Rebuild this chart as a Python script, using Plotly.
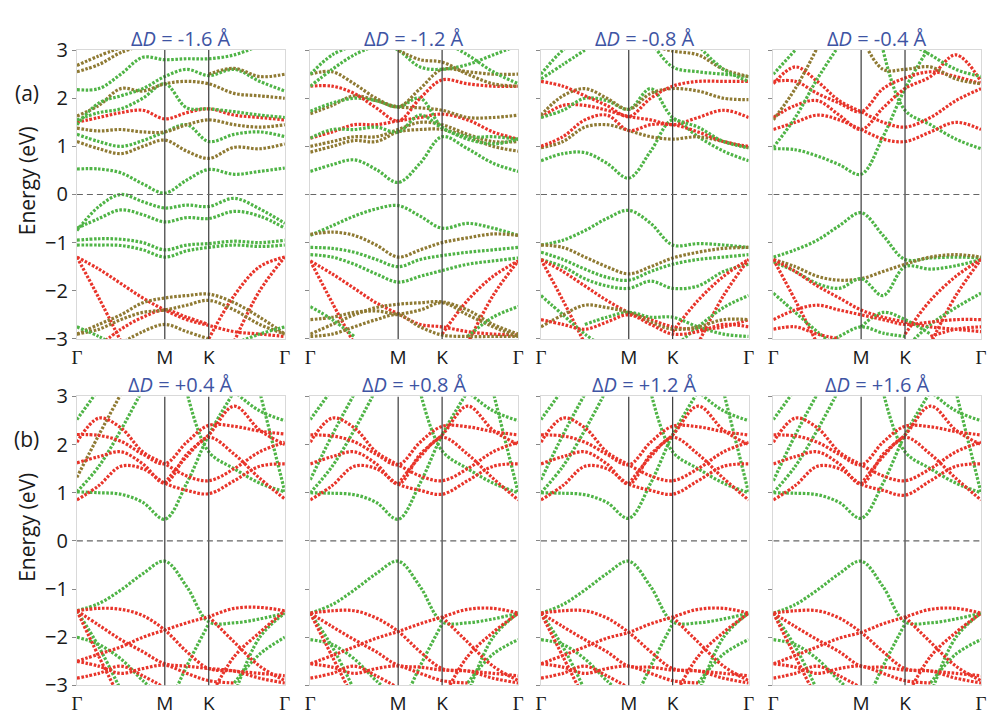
import plotly.graph_objects as go

# k-path positions: Gamma - M - K - Gamma
K_POS = [0.0, 0.25, 0.5, 0.75, 1.0, 1.25, 1.5, 1.79, 2.08, 2.366]
K_TICKS = [0.0, 1.0, 1.5, 2.366]
K_LABELS = ["Γ", "M", "K", "Γ"]
N = None

PANEL_TITLES = ["-1.6", "-1.2", "-0.8", "-0.4", "+0.4", "+0.8", "+1.2", "+1.6"]

# Band energies (eV) sampled at K_POS; None = band outside the window there.
# Orbital character of each band: g = green-projected, r = red-projected, o = mixed.
BANDS_M16 = [
    [0.53, 0.53, 0.45, 0.22, 0.03, 0.3, 0.52, 0.42, 0.48, 0.55],
    [1.1, 0.95, 0.85, 1.0, 1.13, 0.9, 0.75, 0.98, 0.95, 1.05],
    [1.25, 1.1, 1.0, 1.12, 1.3, 1.45, 1.1, 1.25, 1.3, 1.2],
    [1.38, 1.32, 1.35, 1.3, 1.3, 1.45, 1.55, 1.45, 1.4, 1.45],
    [1.5, 1.6, 1.7, 1.75, 1.57, 1.7, 1.78, 1.65, 1.6, 1.55],
    [1.55, 1.7, 1.78, 2.0, 2.3, 1.8, 1.78, 1.72, 1.65, 1.6],
    [1.63, 1.85, 2.2, 2.15, 2.3, 2.35, 2.3, 2.1, 2.05, 2.0],
    [1.45, 1.9, 2.05, 2.2, 2.45, 2.6, 2.47, 2.6, 2.35, 2.15],
    [2.18, 2.2, 2.5, 2.85, 2.8, 2.82, 2.82, 2.9, 3.1, N],
    [2.55, 2.7, 2.95, 3.1, N, N, N, N, N, N],
    [2.68, 2.88, 3.05, N, N, N, N, N, N, N],
    [N, N, N, N, N, N, 2.5, 2.62, 2.45, 2.5],
    [-0.75, -0.25, 0.0, -0.15, -0.28, -0.22, -0.25, -0.08, -0.3, -0.6],
    [-0.7, -0.5, -0.32, -0.42, -0.57, -0.48, -0.5, -0.35, -0.45, -0.7],
    [-0.95, -0.92, -0.93, -1.0, -1.15, -1.05, -1.02, -0.97, -1.0, -0.95],
    [-1.05, -1.05, -1.06, -1.15, -1.3, -1.17, -1.1, -1.05, -1.08, -1.05],
    [-1.3, -1.55, -1.85, -2.15, -2.4, -2.6, -2.72, -2.85, -2.9, -2.95],
    [-1.3, -2.15, -3.05, N, N, N, N, N, N, N],
    [N, N, N, N, N, N, -3.0, -2.1, -1.5, -1.3],
    [N, N, N, N, N, N, N, -3.05, -2.0, -1.3],
    [N, -3.15, -2.8, -2.55, -2.4, -2.55, -2.7, N, N, N],
    [-2.9, -2.7, -2.5, -2.25, -2.15, -2.1, -2.07, -2.25, -2.55, -2.9],
    [-2.9, -2.8, -2.6, -2.45, -2.4, -2.3, -2.2, -2.4, -2.7, -2.9],
    [N, N, -3.1, -2.85, -2.7, -2.85, -3.0, N, N, N],
    [-2.75, -2.95, -3.2, N, N, N, N, N, N, N],
    [N, N, N, N, N, N, N, -3.1, -2.9, -2.75],
]
CHAR_M16 = "gogorgoggooo" + "ggggrrrrrooogg"

BANDS_M12 = [
    [0.48, 0.62, 0.72, 0.52, 0.25, 0.65, 1.2, 0.95, 0.65, 0.48],
    [0.88, 1.0, 1.12, 1.1, 1.3, 1.35, 1.35, 1.2, 1.0, 0.9],
    [1.0, 1.1, 1.2, 1.2, 1.35, 1.5, 1.45, 1.25, 1.1, 1.1],
    [1.17, 1.3, 1.45, 1.45, 1.53, 1.6, 1.67, 1.55, 1.3, 1.15],
    [1.17, 1.35, 1.35, 1.4, 1.3, 1.65, 1.38, 1.15, 1.05, 1.15],
    [1.68, 1.85, 2.05, 1.95, 1.82, 1.8, 1.75, 1.6, 1.6, 1.65],
    [1.73, 1.9, 2.0, 1.95, 1.82, 2.0, 1.4, 1.2, 1.2, 1.15],
    [2.25, 2.25, 2.1, 1.8, 1.53, 2.0, 2.38, 2.3, 2.25, 2.25],
    [2.5, 2.55, 2.3, 2.0, 1.82, 2.2, 2.6, 2.55, 2.5, 2.5],
    [N, N, N, 3.2, 3.0, 2.65, 2.6, 2.7, 2.9, 3.1],
    [N, N, N, N, 3.0, 2.8, 2.75, 2.5, 2.3, 2.25],
    [2.5, 2.9, 3.1, N, N, N, N, N, N, N],
    [2.25, 2.6, 2.9, 3.1, N, N, N, N, N, N],
    [N, N, N, N, N, N, 3.2, 2.9, 2.55, 2.3],
    [-0.85, -0.65, -0.45, -0.3, -0.23, -0.45, -0.7, -0.6, -0.7, -0.85],
    [-0.83, -0.78, -0.85, -1.05, -1.3, -1.15, -1.0, -0.9, -0.82, -0.85],
    [-1.1, -1.12, -1.2, -1.35, -1.5, -1.35, -1.27, -1.2, -1.15, -1.1],
    [-1.25, -1.3, -1.45, -1.65, -1.82, -1.7, -1.58, -1.45, -1.38, -1.32],
    [-1.38, -1.65, -1.95, -2.25, -2.48, -2.7, -2.75, -2.85, -2.9, -2.92],
    [-1.38, -2.25, -3.1, N, N, N, N, N, N, N],
    [N, N, N, N, N, N, -2.9, -2.2, -1.7, -1.38],
    [N, N, N, N, N, N, N, -3.1, -2.1, -1.38],
    [-2.9, -2.7, -2.5, -2.35, -2.28, -2.25, -2.23, -2.4, -2.7, -2.9],
    [-2.6, -2.55, -2.45, -2.42, -2.48, -2.4, -2.25, -2.5, -2.75, -2.95],
    [-2.33, -2.6, -2.95, N, N, N, N, N, N, N],
    [N, N, N, N, N, N, N, -2.95, -2.55, -2.33],
    [-2.95, -2.9, -2.75, -2.6, -2.5, -2.75, -2.92, -2.95, -2.95, -2.95],
]
CHAR_M12 = "goorgogrogoggg" + "goggrrrrooggo"

BANDS_M08 = [
    [0.7, 0.85, 0.87, 0.65, 0.34, 0.9, 1.55, 1.2, 0.9, 0.7],
    [0.97, 1.1, 1.4, 1.45, 1.33, 1.2, 1.15, 1.2, 1.1, 0.97],
    [1.0, 1.2, 1.55, 1.65, 1.33, 1.45, 1.45, 1.3, 1.1, 1.0],
    [1.6, 1.85, 1.85, 1.75, 1.62, 1.55, 1.45, 1.6, 1.75, 1.6],
    [1.6, 1.75, 2.0, 1.95, 1.77, 2.2, 1.6, 1.4, 1.1, 0.97],
    [1.65, 2.05, 2.2, 2.0, 1.77, 2.1, 2.2, 2.15, 2.0, 1.97],
    [2.35, 2.25, 2.05, 1.85, 1.62, 2.0, 2.25, 2.35, 2.35, 2.35],
    [2.5, 3.0, 3.3, N, N, N, N, N, N, N],
    [2.4, 2.7, 3.0, N, N, N, N, N, N, N],
    [N, N, N, N, N, 3.2, 2.65, 2.55, 2.5, 2.45],
    [N, N, N, N, N, 3.1, 2.98, 2.9, 2.6, 2.45],
    [N, N, N, N, N, N, N, 3.1, 2.6, 2.35],
    [-1.05, -0.95, -0.75, -0.5, -0.33, -0.6, -1.05, -1.02, -1.05, -1.1],
    [-1.05, -1.1, -1.3, -1.5, -1.65, -1.5, -1.32, -1.2, -1.12, -1.1],
    [-1.2, -1.35, -1.55, -1.72, -1.78, -1.6, -1.45, -1.35, -1.3, -1.25],
    [-1.35, -1.5, -1.75, -1.9, -1.95, -1.8, -1.95, -1.9, -1.6, -1.45],
    [-1.35, -1.6, -1.9, -2.2, -2.45, -2.6, -2.75, -2.8, -2.75, -2.6],
    [-1.35, -2.2, -3.1, N, N, N, N, N, N, N],
    [N, N, N, N, N, N, -2.85, -2.2, -1.7, -1.35],
    [N, N, N, N, N, N, N, -3.1, -2.1, -1.35],
    [-2.1, -2.5, -2.9, -3.2, N, N, N, N, N, N],
    [N, N, N, N, N, N, -3.2, -2.75, -2.35, -2.1],
    [N, N, -2.7, -2.55, -2.45, -2.55, -2.55, -2.75, -2.9, -2.95],
    [-2.75, -2.5, -2.3, -2.35, -2.45, -2.65, -2.8, -2.75, -2.6, -2.6],
    [-2.6, -2.7, -2.8, -2.65, -2.5, -2.7, -2.9, -2.85, -2.7, -2.75],
]
CHAR_M08 = "gorrgorgggog" + "goggrrrrgggor"

BANDS_M04 = [
    [0.95, 0.93, 0.8, 0.62, 0.42, 1.2, 2.2, 3.1, N, N],
    [N, N, N, N, N, 3.0, 1.75, 1.45, 1.15, 0.95],
    [2.35, 2.35, 2.1, 1.9, 1.72, 2.2, 2.42, 2.55, 2.45, 2.3],
    [2.3, 2.65, 2.35, 1.95, 1.72, 1.5, 1.4, 1.6, 1.95, 2.2],
    [1.6, 1.85, 1.95, 1.65, 1.35, 1.8, 2.2, 2.45, 2.9, 2.35],
    [1.35, 1.5, 1.65, 1.55, 1.35, 1.15, 1.1, 1.3, 1.5, 1.35],
    [0.98, 1.6, 2.4, 3.1, N, N, N, N, N, N],
    [1.55, 2.2, 3.05, N, N, N, N, N, N, N],
    [2.5, 3.0, N, N, N, N, N, N, N, N],
    [N, N, N, N, N, N, 3.2, 2.9, 2.6, 2.45],
    [N, N, N, N, 3.3, 2.6, 2.6, 2.65, 2.4, 2.3],
    [-1.3, -1.15, -0.95, -0.65, -0.38, -0.85, -1.35, -1.32, -1.3, -1.32],
    [-1.35, -1.5, -1.7, -1.78, -1.75, -1.6, -1.45, -1.3, -1.25, -1.3],
    [-1.4, -1.6, -1.85, -1.95, -1.75, -2.1, -1.5, -1.55, -1.48, -1.35],
    [-1.35, -1.6, -1.9, -2.15, -2.4, -2.55, -2.65, -2.75, -2.8, -2.85],
    [-1.35, -2.2, -3.1, N, N, N, N, N, N, N],
    [N, N, N, N, N, N, -2.9, -2.2, -1.7, -1.35],
    [N, N, N, N, N, N, N, -3.1, -2.1, -1.35],
    [-2.05, -2.45, -2.85, -3.2, N, N, N, N, N, N],
    [N, N, N, N, N, N, -3.2, -2.7, -2.35, -2.05],
    [N, N, -3.2, -2.95, -2.75, -2.88, -2.95, N, N, N],
    [N, N, N, N, -2.75, -2.45, -2.6, -2.9, N, N],
    [-2.6, -2.4, -2.3, -2.4, -2.5, -2.6, -2.7, -2.65, -2.6, -2.6],
    [-2.8, -2.75, -2.9, -3.0, N, N, N, -2.95, -2.8, -2.75],
]
CHAR_M04 = "ggrrrrgoggo" + "gogrrrrggggrr"

BANDS_P04 = [
    [1.02, 1.0, 0.97, 0.8, 0.45, 1.2, 2.2, 3.1, N, N],
    [N, N, N, N, N, 3.1, 1.85, 1.5, 1.2, 1.02],
    [1.02, 1.55, 2.3, 3.15, N, N, N, N, N, N],
    [1.32, 2.2, 3.05, N, N, N, N, N, N, N],
    [2.52, 3.15, N, N, N, N, N, N, N, N],
    [N, N, N, N, N, N, N, 3.1, 2.7, 2.5],
    [N, N, N, N, N, N, N, N, 3.1, 1.02],
    [2.21, 2.19, 2.07, 1.8, 1.6, 2.05, 2.4, 2.38, 2.28, 2.22],
    [2.05, 2.55, 2.35, 1.85, 1.6, 1.35, 1.25, 1.5, 1.85, 2.05],
    [1.62, 1.75, 1.85, 1.6, 1.2, 1.8, 2.2, 2.8, 2.3, 2.0],
    [0.85, 1.15, 1.55, 1.5, 1.2, 1.05, 0.98, 1.25, 1.55, 1.6],
    [N, N, N, N, 1.2, 1.75, 2.15, 1.8, 1.3, 0.87],
    [-1.45, -1.3, -1.02, -0.68, -0.42, -0.95, -1.68, -1.7, -1.62, -1.5],
    [-1.45, -2.2, -3.1, N, N, N, N, N, N, N],
    [-2.0, -2.15, -2.45, -2.9, -3.3, N, N, N, N, N],
    [N, N, N, N, -3.6, -2.6, -1.72, N, N, N],
    [N, N, N, N, N, N, N, -2.95, -2.35, -2.0],
    [N, N, N, N, N, N, N, -3.2, -2.0, -1.5],
    [-1.45, -1.4, -1.42, -1.55, -1.85, -2.3, -2.65, -2.7, -2.75, -2.8],
    [-2.5, -2.35, -2.2, -2.0, -1.85, -1.7, -1.57, -1.4, -1.38, -1.45],
    [-1.45, -1.75, -2.05, -2.3, -2.55, -2.6, -2.65, -2.7, -2.85, -2.95],
    [-1.45, -2.4, -3.3, N, N, N, N, N, N, N],
    [-2.5, -2.6, -2.75, -2.65, -2.58, -2.75, -2.9, -2.95, N, N],
    [N, N, N, N, N, N, -3.3, -2.4, -1.9, -1.45],
    [N, N, N, N, N, N, -1.57, -2.1, -2.6, -2.9],
    [-2.85, -2.75, -2.6, -2.8, -3.05, N, N, N, N, N],
]
CHAR_P04 = "gggoggg" + "rrrrr" + "gggggg" + "rrrrrrrr"

BANDS_P08 = [
    [1.0, 0.99, 0.96, 0.8, 0.45, 1.2, 2.2, 3.1, N, N],
    [N, N, N, N, N, 3.1, 1.87, 1.5, 1.2, 1.0],
    [1.0, 1.55, 2.3, 3.15, N, N, N, N, N, N],
    [1.27, 2.2, 3.05, N, N, N, N, N, N, N],
    [2.52, 3.15, N, N, N, N, N, N, N, N],
    [N, N, N, N, N, N, N, 3.1, 2.7, 2.5],
    [N, N, N, N, N, N, N, N, 3.1, 1.0],
    [2.2, 2.18, 2.06, 1.8, 1.58, 2.05, 2.38, 2.37, 2.27, 2.2],
    [2.05, 2.55, 2.35, 1.85, 1.58, 1.35, 1.25, 1.5, 1.85, 2.05],
    [1.6, 1.75, 1.85, 1.6, 1.18, 1.8, 2.2, 2.8, 2.3, 2.0],
    [0.85, 1.15, 1.55, 1.5, 1.18, 1.05, 0.97, 1.25, 1.55, 1.6],
    [N, N, N, N, 1.18, 1.75, 2.15, 1.8, 1.3, 0.85],
    [-1.5, -1.32, -1.02, -0.68, -0.42, -0.95, -1.68, -1.7, -1.62, -1.5],
    [-1.5, -2.2, -3.1, N, N, N, N, N, N, N],
    [-2.05, -2.15, -2.45, -2.9, -3.3, N, N, N, N, N],
    [N, N, N, N, -3.6, -2.6, -1.72, N, N, N],
    [N, N, N, N, N, N, N, -2.95, -2.35, -2.05],
    [N, N, N, N, N, N, N, -3.2, -2.0, -1.5],
    [-1.5, -1.45, -1.45, -1.6, -1.88, -2.3, -2.65, -2.7, -2.75, -2.8],
    [-2.55, -2.38, -2.2, -2.02, -1.88, -1.72, -1.58, -1.42, -1.4, -1.5],
    [-1.5, -1.78, -2.05, -2.3, -2.58, -2.62, -2.68, -2.7, -2.85, -2.95],
    [-1.5, -2.4, -3.3, N, N, N, N, N, N, N],
    [-2.55, -2.62, -2.75, -2.65, -2.6, -2.75, -2.9, -2.95, N, N],
    [N, N, N, N, N, N, -3.3, -2.4, -1.9, -1.5],
    [N, N, N, N, N, N, -1.58, -2.1, -2.6, -2.9],
    [-2.85, -2.75, -2.6, -2.8, -3.05, N, N, N, N, N],
]
CHAR_P08 = "ggggggg" + "rrrrr" + "gggggg" + "rrrrrrrr"

BANDS_P12 = [
    [1.0, 0.99, 0.96, 0.8, 0.47, 1.2, 2.2, 3.1, N, N],
    [N, N, N, N, N, 3.1, 1.85, 1.5, 1.2, 1.0],
    [1.0, 1.55, 2.3, 3.15, N, N, N, N, N, N],
    [1.27, 2.2, 3.05, N, N, N, N, N, N, N],
    [2.52, 3.15, N, N, N, N, N, N, N, N],
    [N, N, N, N, N, N, N, 3.1, 2.7, 2.5],
    [N, N, N, N, N, N, N, N, 3.1, 1.0],
    [2.2, 2.18, 2.05, 1.8, 1.58, 2.05, 2.38, 2.37, 2.27, 2.2],
    [2.05, 2.55, 2.35, 1.85, 1.58, 1.35, 1.25, 1.5, 1.85, 2.05],
    [1.6, 1.75, 1.85, 1.6, 1.18, 1.8, 2.2, 2.8, 2.3, 2.0],
    [0.85, 1.15, 1.55, 1.5, 1.18, 1.05, 0.97, 1.25, 1.55, 1.6],
    [N, N, N, N, 1.18, 1.75, 2.15, 1.8, 1.3, 0.85],
    [-1.5, -1.32, -1.02, -0.68, -0.42, -0.95, -1.68, -1.7, -1.62, -1.5],
    [-1.5, -2.2, -3.1, N, N, N, N, N, N, N],
    [-2.05, -2.15, -2.45, -2.9, -3.3, N, N, N, N, N],
    [N, N, N, N, -3.6, -2.6, -1.72, N, N, N],
    [N, N, N, N, N, N, N, -2.95, -2.35, -2.05],
    [N, N, N, N, N, N, N, -3.2, -2.0, -1.5],
    [-1.5, -1.45, -1.45, -1.6, -1.9, -2.3, -2.65, -2.7, -2.75, -2.8],
    [-2.55, -2.38, -2.2, -2.02, -1.9, -1.72, -1.58, -1.42, -1.4, -1.5],
    [-1.5, -1.78, -2.05, -2.3, -2.6, -2.62, -2.68, -2.7, -2.85, -2.95],
    [-1.5, -2.4, -3.3, N, N, N, N, N, N, N],
    [-2.55, -2.62, -2.75, -2.65, -2.6, -2.75, -2.9, -2.95, N, N],
    [N, N, N, N, N, N, -3.3, -2.4, -1.9, -1.5],
    [N, N, N, N, N, N, -1.58, -2.1, -2.6, -2.9],
    [-2.85, -2.75, -2.6, -2.8, -3.05, N, N, N, N, N],
]
CHAR_P12 = "ggggggg" + "rrrrr" + "gggggg" + "rrrrrrrr"

BANDS_P16 = [
    [1.0, 0.99, 0.96, 0.8, 0.47, 1.2, 2.2, 3.1, N, N],
    [N, N, N, N, N, 3.1, 1.85, 1.5, 1.2, 1.0],
    [1.0, 1.55, 2.3, 3.15, N, N, N, N, N, N],
    [1.25, 2.2, 3.05, N, N, N, N, N, N, N],
    [2.52, 3.15, N, N, N, N, N, N, N, N],
    [N, N, N, N, N, N, N, 3.1, 2.7, 2.5],
    [N, N, N, N, N, N, N, N, 3.1, 1.0],
    [2.2, 2.18, 2.05, 1.8, 1.58, 2.05, 2.38, 2.37, 2.27, 2.2],
    [2.05, 2.55, 2.35, 1.85, 1.58, 1.35, 1.25, 1.5, 1.85, 2.05],
    [1.6, 1.75, 1.85, 1.6, 1.18, 1.8, 2.2, 2.8, 2.3, 2.0],
    [0.85, 1.15, 1.55, 1.5, 1.18, 1.05, 0.95, 1.25, 1.55, 1.6],
    [N, N, N, N, 1.18, 1.75, 2.15, 1.8, 1.3, 0.85],
    [-1.5, -1.32, -1.02, -0.68, -0.42, -0.95, -1.68, -1.7, -1.62, -1.5],
    [-1.5, -2.2, -3.1, N, N, N, N, N, N, N],
    [-2.05, -2.15, -2.45, -2.9, -3.3, N, N, N, N, N],
    [N, N, N, N, -3.6, -2.6, -1.72, N, N, N],
    [N, N, N, N, N, N, N, -2.95, -2.35, -2.05],
    [N, N, N, N, N, N, N, -3.2, -2.0, -1.5],
    [-1.5, -1.45, -1.45, -1.6, -1.9, -2.3, -2.65, -2.7, -2.75, -2.8],
    [-2.55, -2.38, -2.2, -2.02, -1.9, -1.72, -1.58, -1.42, -1.4, -1.5],
    [-1.5, -1.78, -2.05, -2.3, -2.6, -2.62, -2.68, -2.7, -2.85, -2.95],
    [-1.5, -2.4, -3.3, N, N, N, N, N, N, N],
    [-2.55, -2.62, -2.75, -2.65, -2.6, -2.75, -2.9, -2.95, N, N],
    [N, N, N, N, N, N, -3.3, -2.4, -1.9, -1.5],
    [N, N, N, N, N, N, -1.58, -2.1, -2.6, -2.9],
    [-2.85, -2.75, -2.6, -2.8, -3.05, N, N, N, N, N],
]
CHAR_P16 = "ggggggg" + "rrrrr" + "gggggg" + "rrrrrrrr"

PANELS = [
    (BANDS_M16, CHAR_M16), (BANDS_M12, CHAR_M12),
    (BANDS_M08, CHAR_M08), (BANDS_M04, CHAR_M04),
    (BANDS_P04, CHAR_P04), (BANDS_P08, CHAR_P08),
    (BANDS_P12, CHAR_P12), (BANDS_P16, CHAR_P16),
]

COLORS = {"g": "#4fb446", "r": "#e8342a", "o": "#8f7a33"}
TITLE_BLUE = "#3e54a3"
FONT = "Open Sans"

W, H = 989, 722
COL_PX = [(72.7, 283.0), (308.7, 519.0), (542.0, 752.0), (777.0, 987.0)]
ROW_PX = [(37.5, 337.5), (397.3, 697.5)]

GAMMA = '<span style="font-family:Liberation Serif">Γ</span>'
TICK_TEXT = [GAMMA if t == "Γ" else t for t in K_LABELS]

fig = go.Figure()
layout = {}

for idx, (bands, chars) in enumerate(PANELS):
    row, col = divmod(idx, 4)
    n = idx + 1
    xa = "x" if n == 1 else f"x{n}"
    ya = "y" if n == 1 else f"y{n}"
    for vals, ch in zip(bands, chars):
        fig.add_trace(go.Scatter(
            x=K_POS, y=vals, mode="lines", xaxis=xa, yaxis=ya,
            line=dict(shape="spline", smoothing=1.0, color=COLORS[ch],
                      width=3.2, dash="2.6px,1.6px"),
            connectgaps=False, showlegend=False, hoverinfo="skip",
        ))
    x0, x1 = COL_PX[col]
    yt, yb = ROW_PX[row]
    xkey = "xaxis" if n == 1 else f"xaxis{n}"
    ykey = "yaxis" if n == 1 else f"yaxis{n}"
    layout[xkey] = dict(
        domain=[x0 / W, x1 / W], anchor=ya, range=[0, K_TICKS[-1]],
        tickvals=K_TICKS, ticktext=TICK_TEXT,
        ticks="", ticklabelstandoff=1, tickfont=dict(size=19, color="#1a1a1a"),
        showline=True, mirror=True, linecolor="#d9d9d9", linewidth=1,
        showgrid=False, zeroline=False,
    )
    layout[ykey] = dict(
        domain=[1 - yb / H, 1 - yt / H], anchor=xa, range=[-3, 3],
        tickvals=[-3, -2, -1, 0, 1, 2, 3], showticklabels=(col == 0),
        ticks="outside", ticklen=4, tickcolor="#888", tickwidth=1,
        tickfont=dict(size=20, color="#1a1a1a"),
        showline=True, mirror=True, linecolor="#d9d9d9", linewidth=1,
        showgrid=False, zeroline=False,
    )
    # high-symmetry verticals and Fermi level
    for kx in K_TICKS[1:3]:
        fig.add_shape(type="line", xref=xa, yref=ya, x0=kx, x1=kx, y0=-3, y1=3,
                      line=dict(color="#3a3a3a", width=1.2), layer="above")
    fig.add_shape(type="line", xref=xa, yref=ya, x0=0, x1=K_TICKS[-1], y0=0, y1=0,
                  line=dict(color="#666", width=1.2, dash="6px,4px"), layer="above")
    fig.add_annotation(
        x=(x0 + x1) / 2 / W, y=1 - (yt - 12) / H, xref="paper", yref="paper",
        text=f"Δ<i>D</i> = {PANEL_TITLES[idx]} Å", showarrow=False,
        xanchor="center", yanchor="middle",
        font=dict(size=20, color=TITLE_BLUE, family=FONT),
    )

for label, yl, ye in [("(a)", 82, 173), ("(b)", 442, 533)]:
    fig.add_annotation(x=22 / W, y=1 - yl / H, xref="paper", yref="paper",
                       text=label, showarrow=False, xanchor="center", yanchor="middle",
                       font=dict(size=21, color="#1a1a1a", family=FONT))
    fig.add_annotation(x=22 / W, y=1 - ye / H, xref="paper", yref="paper",
                       text="Energy (eV)", showarrow=False, textangle=-90,
                       xanchor="center", yanchor="middle",
                       font=dict(size=21, color="#1a1a1a", family=FONT))

fig.update_layout(
    width=W, height=H, margin=dict(l=0, r=0, t=0, b=0),
    paper_bgcolor="white", plot_bgcolor="white",
    font=dict(family=FONT, color="#1a1a1a"),
    **layout,
)

fig.write_html("out.html")
